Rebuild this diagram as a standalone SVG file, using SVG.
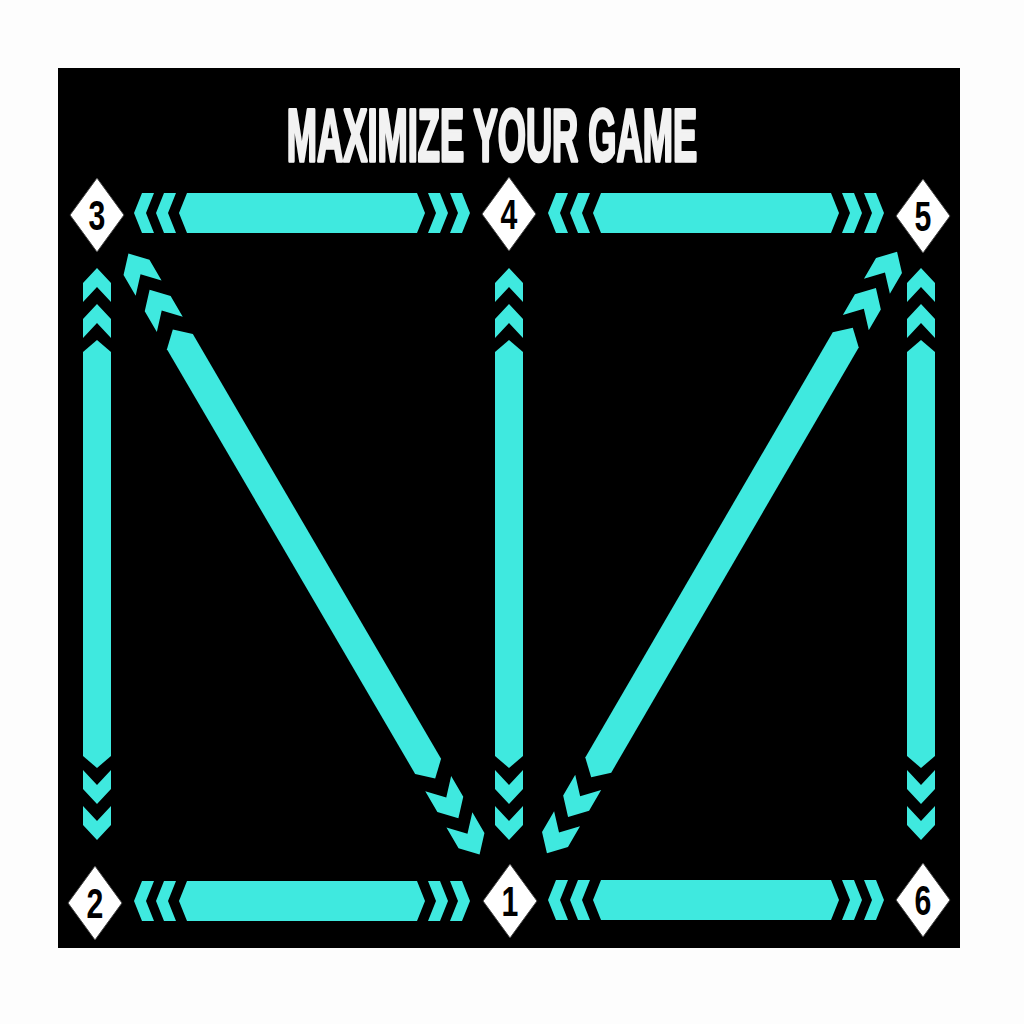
<svg xmlns="http://www.w3.org/2000/svg" xmlns:xlink="http://www.w3.org/1999/xlink" width="1024" height="1024" viewBox="0 0 1024 1024">
<style>
.c{fill:#3FE9DF}
.dia{fill:#ffffff;stroke:#444;stroke-width:1}
.num{font-family:"Liberation Sans",Arial,sans-serif;font-weight:bold;font-size:42px;fill:#000;text-anchor:middle}
.title{font-family:"Liberation Sans",Arial,sans-serif;font-weight:bold;font-size:74px;fill:#f2f2f2;stroke:#f2f2f2;stroke-width:3.5;stroke-linejoin:round;text-anchor:middle}
</style>
<defs>
<polygon id="chevH" class="c" points="-20,-20 -8,-20 0,0 -8,20 -20,20 -12,0"/>
<polygon id="chevV" class="c" points="-34,-14 -15,-14 0,0 -15,14 -34,14 -19,0"/>
<polygon id="chevD" class="c" points="-40,-15 -16,-15 0,0 -16,15 -40,15 -24,0"/>
<g id="endH"><use href="#chevH"/><use href="#chevH" x="-22"/></g>
<g id="endV"><use href="#chevV"/><use href="#chevV" x="-36"/></g>
<g id="endD"><use href="#chevD"/><use href="#chevD" x="-42"/></g>
<g id="connH">
<polygon class="c" points="-123,0 -115,-20 115,-20 123,0 115,20 -115,20"/>
<use href="#endH" transform="translate(168,0)"/>
<use href="#endH" transform="scale(-1,1) translate(168,0)"/>
</g>
<g id="connV">
<polygon class="c" points="-214,0 -202,-14 202,-14 214,0 202,14 -202,14"/>
<use href="#endV" transform="translate(286,0)"/>
<use href="#endV" transform="scale(-1,1) translate(286,0)"/>
</g>
<g id="connD">
<polygon class="c" points="-260,0 -246,-15 246,-15 260,0 246,15 -246,15"/>
<use href="#endD" transform="translate(348,0)"/>
<use href="#endD" transform="scale(-1,1) translate(348,0)"/>
</g>
<polygon id="diamond" class="dia" points="0,-37 27,0 0,37 -27,0"/>
</defs>
<rect width="1024" height="1024" fill="#fdfdfd"/>
<rect x="58" y="68" width="902" height="880" fill="#000"/>
<text class="title" transform="translate(492,161) scale(0.49,1)">MAXIMIZE YOUR GAME</text>
<g id="connectors">
<use href="#connH" transform="translate(302,213)"/>
<use href="#connH" transform="translate(716,213)"/>
<use href="#connH" transform="translate(302,901)"/>
<use href="#connH" transform="translate(716,900)"/>
<use href="#connV" transform="translate(97,554) rotate(90)"/>
<use href="#connV" transform="translate(509,554) rotate(90)"/>
<use href="#connV" transform="translate(921,554) rotate(90)"/>
<use href="#connD" transform="translate(304,554) rotate(59.7)"/>
<use href="#connD" transform="translate(722,552.5) rotate(120.2)"/>
</g>
<g id="node1" transform="translate(510,901)"><use href="#diamond"/><text class="num" transform="scale(0.72,1)" y="15">1</text></g>
<g id="node2" transform="translate(95,903)"><use href="#diamond"/><text class="num" transform="scale(0.72,1)" y="15">2</text></g>
<g id="node3" transform="translate(97,215)"><use href="#diamond"/><text class="num" transform="scale(0.72,1)" y="15">3</text></g>
<g id="node4" transform="translate(509,214)"><use href="#diamond"/><text class="num" transform="scale(0.72,1)" y="15">4</text></g>
<g id="node5" transform="translate(923,216)"><use href="#diamond"/><text class="num" transform="scale(0.72,1)" y="15">5</text></g>
<g id="node6" transform="translate(923,900)"><use href="#diamond"/><text class="num" transform="scale(0.72,1)" y="15">6</text></g>
</svg>
